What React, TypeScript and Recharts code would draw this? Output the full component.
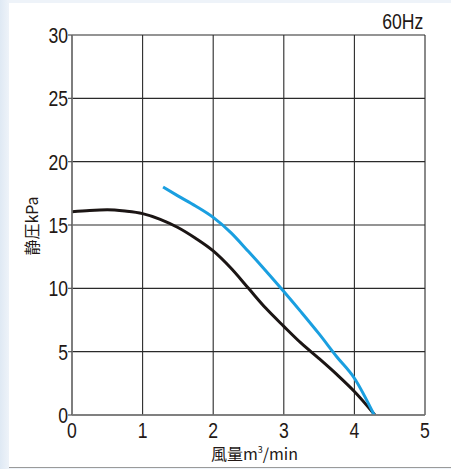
import { LineChart, Line, XAxis, YAxis, CartesianGrid } from 'recharts';

// 風量 (m3/min) / 静圧 (kPa) curves
const blackFlow = [0, 0.25, 0.5, 0.75, 1.0, 1.25, 1.5, 1.75, 2.0, 2.25, 2.5, 2.75, 3.0, 3.25, 3.5, 3.75, 4.0, 4.29];
const blackPressure = [16.05, 16.15, 16.2, 16.1, 15.9, 15.45, 14.8, 13.95, 12.95, 11.6, 10.0, 8.4, 7.0, 5.65, 4.45, 3.2, 1.85, 0];

const blueFlow = [1.29, 1.5, 1.75, 2.0, 2.25, 2.5, 2.75, 3.0, 3.25, 3.5, 3.75, 4.0, 4.28];
const bluePressure = [18.0, 17.3, 16.5, 15.6, 14.4, 12.9, 11.35, 9.75, 8.1, 6.4, 4.6, 2.9, 0];

const xTicks = [0, 1, 2, 3, 4, 5];
const yTicks = [0, 5, 10, 15, 20, 25, 30];

const blackData = blackFlow.map((x, i) => ({ x, y: blackPressure[i] }));
const blueData = blueFlow.map((x, i) => ({ x, y: bluePressure[i] }));

const SANS = '"Liberation Sans", Arial, sans-serif';
const JP = '"Noto Sans CJK JP", "Noto Sans", sans-serif';
const SQUEEZE = 0.8; // the print uses a condensed face

const YTick = (props: any) => {
  const { x, y, payload } = props;
  return (
    <text
      transform={`translate(${x},${y}) scale(${SQUEEZE},1)`}
      dy="0.36em"
      textAnchor="end"
      fontFamily={SANS}
      fontSize={22}
      fill="#231815"
    >
      {payload.value}
    </text>
  );
};

const XTick = (props: any) => {
  const { x, y, payload } = props;
  return (
    <text
      transform={`translate(${x},${y}) scale(${SQUEEZE},1)`}
      dy="0.72em"
      textAnchor="middle"
      fontFamily={SANS}
      fontSize={22}
      fill="#231815"
    >
      {payload.value}
    </text>
  );
};

const XTitle = (props: any) => {
  const { viewBox } = props;
  const cx = viewBox.x + viewBox.width / 2 + 6;
  return (
    <text x={cx} y={viewBox.y + 45} textAnchor="middle" fontFamily={JP} fontSize={16} fill="#231815">
      風量m<tspan fontSize={9} dy={-7}>3</tspan>
      <tspan dy={7}>/min</tspan>
    </text>
  );
};

const YTitle = (props: any) => {
  const { viewBox } = props;
  const cx = viewBox.x + 20;
  const cy = viewBox.y + viewBox.height / 2 + 1;
  return (
    <text
      x={cx}
      y={cy}
      dy="0.35em"
      textAnchor="middle"
      transform={`rotate(-90 ${cx} ${cy})`}
      fontFamily={JP}
      fontSize={16}
      fill="#231815"
    >
      静圧kPa
    </text>
  );
};

export default function App() {
  return (
    <div
      style={{
        position: 'absolute',
        left: 0,
        top: 0,
        width: 451,
        height: 469,
        background: 'linear-gradient(90deg, #dfe9f4 0px, #eef3f9 9px)',
      }}
    >
      <div
        style={{
          position: 'absolute',
          left: 9,
          top: 3,
          width: 442,
          height: 464,
          background: '#fff',
          borderBottom: '1px solid #9a9a9a',
        }}
      />
      <div
        style={{
          position: 'absolute',
          right: 28,
          top: 10,
          fontFamily: SANS,
          fontSize: 22,
          color: '#231815',
          lineHeight: '24px',
          transform: `scaleX(${SQUEEZE})`,
          transformOrigin: 'right center',
        }}
      >
        60Hz
      </div>
      <div style={{ position: 'absolute', left: 0, top: 0 }}>
        <LineChart width={451} height={469} margin={{ top: 35, right: 26, bottom: 34, left: 12 }}>
          <CartesianGrid stroke="#2a2a2a" strokeWidth={1.1} fill="none" />
          <XAxis
            type="number"
            dataKey="x"
            domain={[0, 5]}
            ticks={xTicks}
            interval={0}
            height={20}
            tickLine={false}
            tickSize={6}
            tickMargin={1}
            axisLine={{ stroke: '#7a7a7a', strokeWidth: 1.5 }}
            tick={<XTick />}
            label={{ content: <XTitle /> }}
            allowDataOverflow
          />
          <YAxis
            type="number"
            domain={[0, 30]}
            ticks={yTicks}
            interval={0}
            width={60}
            tickSize={4}
            tickMargin={0}
            tickLine={{ stroke: '#555', strokeWidth: 1.2 }}
            axisLine={{ stroke: '#7a7a7a', strokeWidth: 1.5 }}
            tick={<YTick />}
            label={{ content: <YTitle /> }}
            allowDataOverflow
          />
          <Line
            data={blackData}
            dataKey="y"
            type="monotone"
            stroke="#1b1514"
            strokeWidth={3}
            dot={false}
            isAnimationActive={false}
          />
          <Line
            data={blueData}
            dataKey="y"
            type="monotone"
            stroke="#1a9fe0"
            strokeWidth={3}
            dot={false}
            isAnimationActive={false}
          />
        </LineChart>
      </div>
    </div>
  );
}
